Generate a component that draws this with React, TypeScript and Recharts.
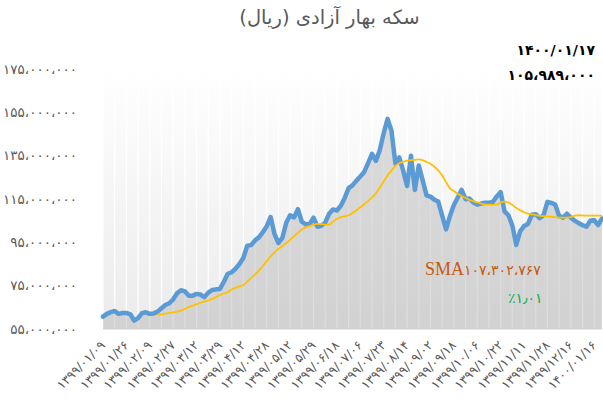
import { Area, CartesianGrid, ComposedChart, Line, XAxis, YAxis } from "recharts";

// Persian date labels, one every 6 samples
const dateLabels = [
  "۱۳۹۹/۰۱/۰۹", "۱۳۹۹/۰۱/۲۶", "۱۳۹۹/۰۲/۰۹", "۱۳۹۹/۰۲/۲۷", "۱۳۹۹/۰۳/۱۲", "۱۳۹۹/۰۳/۲۹",
  "۱۳۹۹/۰۴/۱۲", "۱۳۹۹/۰۴/۲۸", "۱۳۹۹/۰۵/۱۲", "۱۳۹۹/۰۵/۲۹", "۱۳۹۹/۰۶/۱۸", "۱۳۹۹/۰۷/۰۶",
  "۱۳۹۹/۰۷/۲۳", "۱۳۹۹/۰۸/۱۴", "۱۳۹۹/۰۹/۰۲", "۱۳۹۹/۰۹/۱۸", "۱۳۹۹/۱۰/۰۶", "۱۳۹۹/۱۰/۲۲",
  "۱۳۹۹/۱۱/۱۱", "۱۳۹۹/۱۱/۲۸", "۱۳۹۹/۱۲/۱۶", "۱۴۰۰/۰۱/۱۶",
];

// coin price, million rial
const priceM = [
  60.7, 62.0, 62.8, 63.3, 62.0, 62.4, 62.4, 61.8, 58.9, 60.0,
  62.3, 62.7, 62.0, 62.2, 63.0, 64.6, 66.1, 66.9, 68.7, 71.5,
  72.9, 72.4, 70.4, 70.4, 71.2, 70.9, 69.7, 71.8, 73.0, 73.3,
  73.5, 76.8, 80.5, 81.2, 82.8, 85.0, 87.8, 93.4, 93.7, 95.9,
  97.3, 99.7, 102.4, 106.7, 98.8, 94.7, 97.0, 104.0, 107.5, 106.5,
  110.3, 104.5, 103.3, 103.4, 106.4, 102.2, 102.6, 104.1, 108.2, 110.2,
  109.7, 111.9, 115.5, 120.0, 121.3, 123.5, 125.4, 127.5, 131.6, 135.8,
  132.6, 137.6, 145.4, 152.0, 146.5, 131.4, 134.2, 128.1, 121.0, 135.0,
  119.2, 130.5, 123.6, 116.7, 116.1, 114.7, 113.8, 107.3, 101.0, 107.2,
  112.2, 115.7, 119.2, 114.9, 115.2, 113.4, 112.4, 112.9, 113.3, 113.3,
  113.6, 116.2, 118.2, 109.3, 107.5, 102.8, 93.8, 100.1, 102.5, 103.5,
  107.7, 108.0, 106.2, 107.5, 113.7, 113.2, 112.4, 107.2, 106.4, 108.2,
  106.4, 105.0, 103.9, 102.9, 102.2, 105.0, 105.3, 103.0, 106.0,
];

// simple moving average, million rial (null before it starts)
const smaM = [
  null, null, null, null, null, null, null, null, null, null,
  null, null, null, null, 61.6, 61.8, 62.1, 62.4, 62.7, 63.0,
  63.5, 64.3, 65.1, 65.8, 66.5, 67.1, 67.6, 68.2, 68.9, 69.8,
  70.7, 71.4, 72.0, 73.2, 74.0, 74.7, 75.3, 76.9, 78.5, 80.1,
  81.9, 84.1, 86.3, 88.5, 90.4, 91.9, 93.3, 94.7, 96.2, 97.8,
  99.4, 100.9, 101.9, 102.5, 103.1, 103.5, 103.4, 103.2, 103.2, 104.6,
  105.8, 106.6, 107.1, 107.5, 108.5, 109.8, 111.2, 112.6, 114.1, 115.6,
  117.6, 120.3, 123.1, 125.9, 128.1, 130.3, 131.5, 132.2, 132.7, 132.9,
  133.1, 133.3, 132.9, 132.1, 131.3, 129.9, 128.2, 125.8, 122.8, 119.9,
  118.7, 117.4, 116.4, 115.5, 114.6, 114.0, 113.4, 112.9, 112.5, 112.4,
  112.3, 112.5, 113.3, 113.8, 113.4, 112.3, 110.9, 109.8, 108.9, 108.3,
  107.9, 107.6, 107.2, 107.1, 107.0, 106.8, 106.6, 106.4, 106.4, 106.4,
  106.6, 107.3, 107.5, 107.4, 107.3, 107.3, 107.3, 107.3, 107.3,
];

const yTicks = [55, 75, 95, 115, 135, 155, 175];

const title = "سکه بهار آزادی (ریال)";
const lastDate = "۱۴۰۰/۰۱/۱۷";
const lastPrice = "۱۰۵،۹۸۹،۰۰۰";
const smaPrefix = "SMA";
const smaValue = "۱۰۷،۳۰۲،۷۶۷";
const changeText = "٪۱٫۰۱";

const LABEL_STEP = 6;
const GRID_STEP = 3;

const data = priceM.map((p, i) => ({ i, price: p, sma: smaM[i] }));
const gridTicks = priceM.map((_, i) => i).filter((i) => i % GRID_STEP === 0);

const faDigits = "۰۱۲۳۴۵۶۷۸۹";
function toFa(s: string) {
  return s.replace(/\d/g, (d) => faDigits[Number(d)]);
}
function fmtY(v: number) {
  return toFa(String(v)) + "،۰۰۰،۰۰۰";
}

const FONT = "'DejaVu Sans', sans-serif";

function XTick(props: any) {
  const { x, y, payload } = props;
  const idx = payload.value;
  if (idx % LABEL_STEP !== 0) return null;
  const label = dateLabels[idx / LABEL_STEP];
  if (!label) return null;
  return (
    <g transform={`translate(${x + 3},${y + 9})`}>
      <text
        textAnchor="end"
        transform="rotate(-45)"
        fontSize={12.5}
        fill="#595959"
        fontFamily={FONT}
      >
        {label}
      </text>
    </g>
  );
}

export default function App() {
  return (
    <div style={{ position: "absolute", left: 0, top: 0, width: 603, height: 405, background: "#fff" }}>
      <ComposedChart
        width={603}
        height={405}
        data={data}
        margin={{ top: 69, right: 1, left: 0, bottom: 0 }}
      >
        <defs>
          <linearGradient id="plotBg" x1="0" y1="0" x2="0" y2="1">
            <stop offset="0%" stopColor="#ffffff" />
            <stop offset="100%" stopColor="#ebebeb" />
          </linearGradient>
        </defs>
        <CartesianGrid
          horizontal={false}
          stroke="#ffffff"
          strokeWidth={1.2}
          fill="url(#plotBg)"
          fillOpacity={1}
        />
        <XAxis
          dataKey="i"
          type="number"
          domain={[0, priceM.length - 1]}
          ticks={gridTicks}
          interval={0}
          tick={<XTick />}
          tickLine={false}
          axisLine={{ stroke: "#d0d0d0" }}
          height={76}
        />
        <YAxis
          domain={[55, 175]}
          ticks={yTicks}
          tickFormatter={fmtY}
          tick={{ fill: "#595959", fontSize: 13.5, fontFamily: FONT }}
          tickLine={false}
          axisLine={false}
          tickMargin={20}
          width={103}
          allowDataOverflow
        />
        <Area
          dataKey="price"
          type="linear"
          stroke="none"
          fill="#b4b4b4"
          fillOpacity={0.45}
          isAnimationActive={false}
          dot={false}
          activeDot={false}
        />
        <Line
          dataKey="price"
          type="linear"
          stroke="#5b9bd5"
          strokeWidth={4.5}
          strokeLinejoin="round"
          strokeLinecap="round"
          dot={false}
          activeDot={false}
          isAnimationActive={false}
        />
        <Line
          dataKey="sma"
          type="monotone"
          stroke="#ffc000"
          strokeWidth={1.8}
          dot={false}
          activeDot={false}
          isAnimationActive={false}
        />
      </ComposedChart>

      <div
        style={{
          position: "absolute", left: 28, width: 603, top: 6, display: "flex",
          justifyContent: "center", fontFamily: FONT, fontSize: 19.5, color: "#595959",
        }}
      >
        <span dir="rtl" style={{ whiteSpace: "nowrap" }}>{title}</span>
      </div>
      <div
        style={{
          position: "absolute", right: 8, top: 38, textAlign: "right",
          fontFamily: FONT, fontSize: 14, fontWeight: "bold", color: "#000", lineHeight: "25px",
        }}
      >
        <div>{lastDate}</div>
        <div>{lastPrice}</div>
      </div>
      <div
        style={{
          position: "absolute", left: 425, top: 259, color: "#c55a11", whiteSpace: "nowrap",
        }}
      >
        <span style={{ fontFamily: "'Liberation Serif', serif", fontSize: 18 }}>{smaPrefix}</span>
        <span style={{ fontFamily: FONT, fontSize: 14 }}>{smaValue}</span>
      </div>
      <div
        style={{
          position: "absolute", left: 508, top: 290, fontFamily: FONT,
          fontSize: 14, color: "#00b050", whiteSpace: "nowrap",
        }}
      >
        {changeText}
      </div>
    </div>
  );
}
